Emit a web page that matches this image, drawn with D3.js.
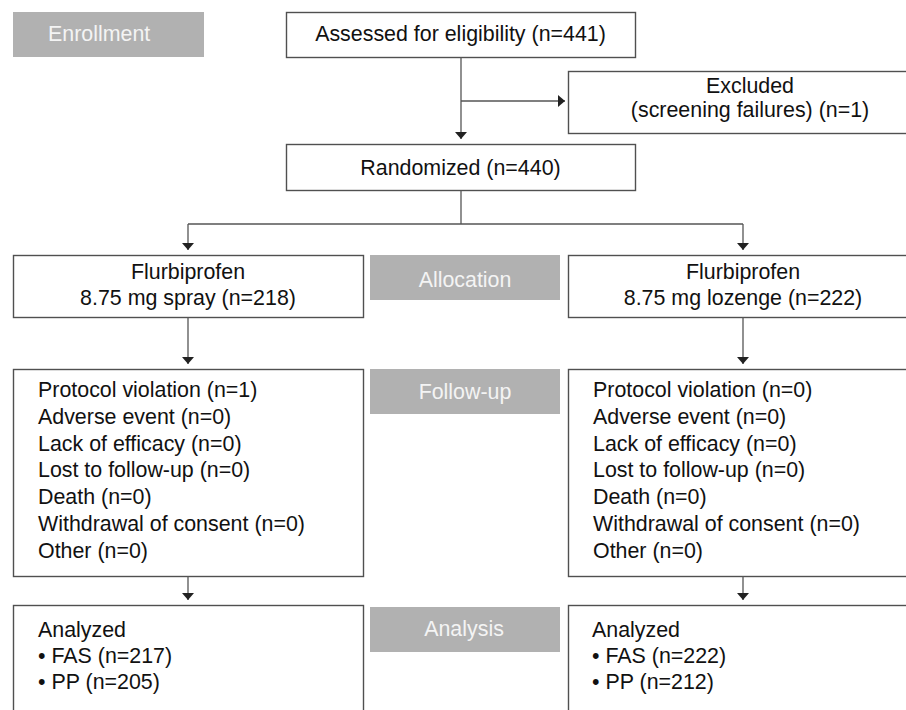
<!DOCTYPE html>
<html>
<head>
<meta charset="utf-8">
<script src="https://cdn.jsdelivr.net/npm/d3@7"></script>
<style>
  html, body { margin: 0; padding: 0; background: #fff; }
  svg { display: block; }
</style>
</head>
<body>
<svg width="906" height="710"></svg>
<script>
// Flow diagram content
const stages = ["Enrollment", "Allocation", "Follow-up", "Analysis"];
const assessed = 441;
const excluded = 1;
const randomized = 440;
const drug = "Flurbiprofen";
const arms = ["8.75 mg spray", "8.75 mg lozenge"];
const allocated = [218, 222];
const reasons = ["Protocol violation", "Adverse event", "Lack of efficacy", "Lost to follow-up",
                 "Death", "Withdrawal of consent", "Other"];
const lostSpray = [1, 0, 0, 0, 0, 0, 0];
const lostLozenge = [0, 0, 0, 0, 0, 0, 0];
const fas = [217, 222];
const pp = [205, 212];

const svg = d3.select("svg");
const font = "'Liberation Sans', Arial, Helvetica, sans-serif";
const fs = 21.4;
const boxStroke = "#505050";
const lineColor = "#555";
const gap = 5; // arrows stop a little short of the box

// arrow head marker
svg.append("defs").append("marker")
    .attr("id", "head")
    .attr("viewBox", "0 0 7 12")
    .attr("refX", 7).attr("refY", 6)
    .attr("markerWidth", 7).attr("markerHeight", 12)
    .attr("markerUnits", "userSpaceOnUse")
    .attr("orient", "auto")
  .append("path")
    .attr("d", "M0,0 L7,6 L0,12 Z")
    .attr("fill", "#222");

// column positions
const colLeft = [13, 568];
const colW = 350;
const colCenter = colLeft.map(x => x + colW / 2);

// grey stage labels
const stageBoxes = [
    {x: 13, y: 12, w: 191, h: 45, tx: 48, ty: 41, anchor: "start"},
    {x: 370, y: 255, w: 190, h: 45, tx: 465, ty: 287, anchor: "middle"},
    {x: 370, y: 369, w: 190, h: 45, tx: 465, ty: 399, anchor: "middle"},
    {x: 370, y: 607, w: 190, h: 45, tx: 464, ty: 636, anchor: "middle"}
];

const sg = svg.append("g").selectAll("g")
    .data(stages)
    .join("g");
sg.append("rect")
    .attr("x", (d, i) => stageBoxes[i].x)
    .attr("y", (d, i) => stageBoxes[i].y)
    .attr("width", (d, i) => stageBoxes[i].w)
    .attr("height", (d, i) => stageBoxes[i].h)
    .attr("fill", "#b1b1b1");
sg.append("text")
    .attr("x", (d, i) => stageBoxes[i].tx)
    .attr("y", (d, i) => stageBoxes[i].ty)
    .attr("text-anchor", (d, i) => stageBoxes[i].anchor)
    .style("font-family", font)
    .style("font-size", fs + "px")
    .attr("fill", "#f4f4f4")
    .text(d => d);

// white boxes
function box(x, y, w, h) {
    svg.append("rect")
        .attr("x", x + 0.5).attr("y", y + 0.5)
        .attr("width", w).attr("height", h)
        .attr("fill", "#fff")
        .attr("stroke", boxStroke)
        .attr("stroke-width", 1.4);
}

function lines(x, baselines, texts, anchor) {
    const t = svg.append("text")
        .style("font-family", font)
        .style("font-size", fs + "px")
        .attr("fill", "#111")
        .attr("text-anchor", anchor);
    t.selectAll("tspan")
        .data(texts)
        .join("tspan")
        .attr("x", x)
        .attr("y", (d, i) => baselines[i])
        .text(d => d);
}

function connector(points, arrow) {
    svg.append("path")
        .attr("d", d3.line()(points))
        .attr("fill", "none")
        .attr("stroke", lineColor)
        .attr("stroke-width", 1.3)
        .attr("marker-end", arrow ? "url(#head)" : null);
}

// Enrollment
box(286, 12, 349, 45);
lines(460.5, [41], [`Assessed for eligibility (n=${assessed})`], "middle");

box(568, 71, 364, 62);
lines(750, [93, 117], ["Excluded", `(screening failures) (n=${excluded})`], "middle");

box(286, 144, 349, 46);
lines(460.5, [175], [`Randomized (n=${randomized})`], "middle");

connector([[461, 57], [461, 144 - gap]], true);
connector([[461, 101], [568 - 3, 101]], true);

// split to arms
connector([[461, 190], [461, 224]], false);
connector([[188, 224], [743, 224]], false);
colCenter.forEach(cx => connector([[cx, 224], [cx, 255 - gap]], true));

// Allocation
arms.forEach((a, i) => {
    box(colLeft[i], 255, colW, 62);
    lines(colCenter[i], [279, 305], [drug, `${a} (n=${allocated[i]})`], "middle");
    connector([[colCenter[i], 317], [colCenter[i], 369 - gap]], true);
});

// Follow-up
const lost = [lostSpray, lostLozenge];
const textLeft = [38, 593];
const followBase = d3.range(reasons.length).map(i => 397 + i * 26.8);
arms.forEach((a, i) => {
    box(colLeft[i], 369, colW, 207);
    lines(textLeft[i], followBase, reasons.map((r, j) => `${r} (n=${lost[i][j]})`), "start");
    connector([[colCenter[i], 576], [colCenter[i], 605 - gap]], true);
});

// Analysis
arms.forEach((a, i) => {
    box(colLeft[i], 605, colW, 140);
    lines(textLeft[i] - (i ? 1 : 0), [637, 663, 689],
          ["Analyzed", `\u2022 FAS (n=${fas[i]})`, `\u2022 PP (n=${pp[i]})`], "start");
});
</script>
</body>
</html>
